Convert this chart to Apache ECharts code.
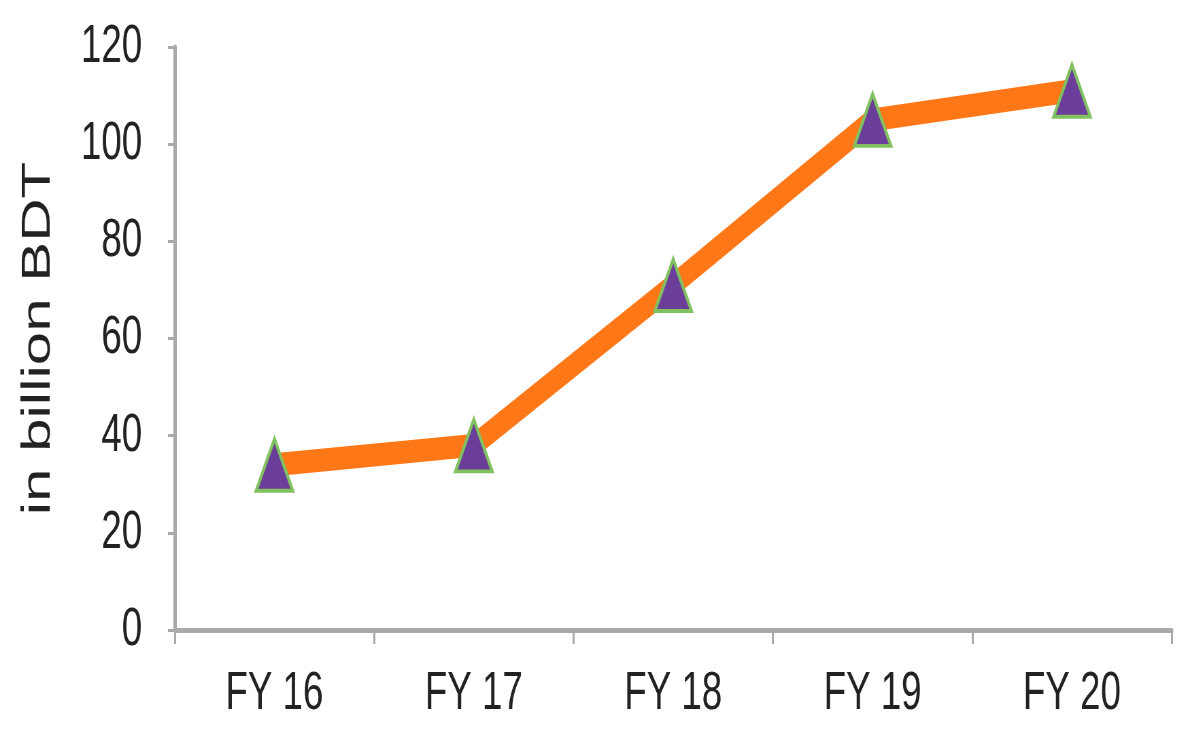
<!DOCTYPE html>
<html>
<head>
<meta charset="utf-8">
<script src="https://cdn.jsdelivr.net/npm/echarts@6/dist/echarts.min.js"></script>
<style>
  html, body { margin: 0; padding: 0; background: #fff; overflow: hidden; }
  /* the source picture is squeezed sideways, so the chart is drawn wider and narrowed */
  #main { width: 1741px; height: 741px; transform: scaleX(0.68); transform-origin: 0 0; }
</style>
</head>
<body>
<div id="main"></div>
<script>
// values
var years = ['FY 16', 'FY 17', 'FY 18', 'FY 19', 'FY 20'];
var amounts = [34, 38, 71, 105, 111];
var yTicks = [0, 20, 40, 60, 80, 100, 120];

var font = 'Liberation Sans, Arial, sans-serif';
var chart = echarts.init(document.getElementById('main'));
chart.setOption({
  animation: false,
  grid: { left: 257, right: 18, top: 47, bottom: 111 },
  xAxis: {
    type: 'category',
    data: years,
    boundaryGap: true,
    axisLine: { lineStyle: { color: '#a9a9ab', width: 5 } },
    axisTick: { show: true, length: 14, lineStyle: { color: '#a9a9ab', width: 3 } },
    axisLabel: { color: '#222', fontSize: 54, fontFamily: font, margin: 37 }
  },
  yAxis: {
    type: 'value',
    min: yTicks[0],
    max: yTicks[yTicks.length - 1],
    interval: 20,
    name: 'in billion BDT',
    nameLocation: 'middle',
    nameGap: 171,
    nameTextStyle: { color: '#222', fontSize: 60, fontFamily: font },
    axisLine: { show: true, lineStyle: { color: '#a9a9ab', width: 5 } },
    axisTick: { show: true, length: 10, lineStyle: { color: '#a9a9ab', width: 3 } },
    splitLine: { show: false },
    axisLabel: { color: '#222', fontSize: 54, fontFamily: font, margin: 48 }
  },
  series: [{
    type: 'line',
    data: amounts,
    lineStyle: { color: '#ff7716', width: 23 },
    symbol: 'triangle',
    symbolSize: [54, 52],
    itemStyle: { color: '#6b3f99', borderColor: '#82c160', borderWidth: 4 },
    z: 3
  }]
});
</script>
</body>
</html>
